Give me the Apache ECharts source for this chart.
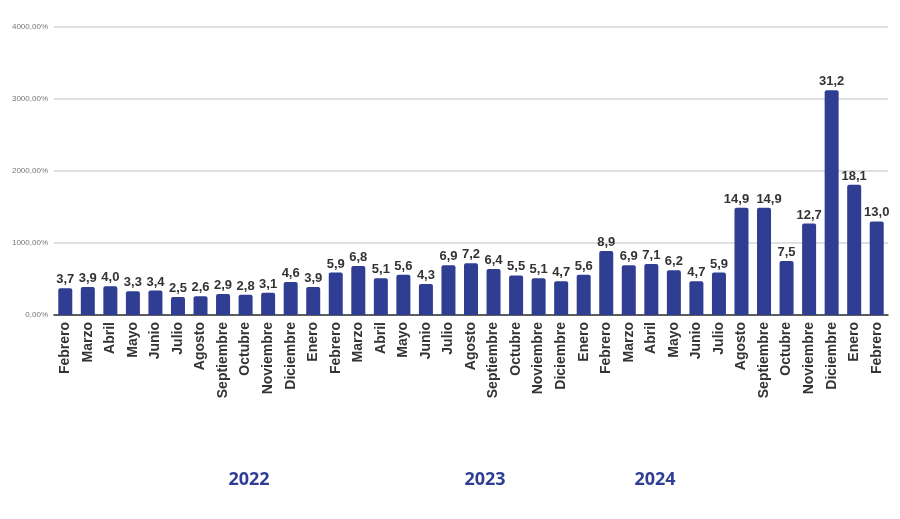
<!DOCTYPE html>
<html>
<head>
<meta charset="utf-8">
<script src="https://cdn.jsdelivr.net/npm/echarts@6/dist/echarts.min.js"></script>
<style>html,body{margin:0;padding:0;background:#fff;}#c{width:900px;height:519px;}</style>
</head>
<body>
<div id="c"></div>
<script>
const categories = ['Febrero','Marzo','Abril','Mayo','Junio','Julio','Agosto','Septiembre','Octubre','Noviembre','Diciembre',
  'Enero','Febrero','Marzo','Abril','Mayo','Junio','Julio','Agosto','Septiembre','Octubre','Noviembre','Diciembre',
  'Enero','Febrero','Marzo','Abril','Mayo','Junio','Julio','Agosto','Septiembre','Octubre','Noviembre','Diciembre',
  'Enero','Febrero'];
const labelValues = [3.7,3.9,4.0,3.3,3.4,2.5,2.6,2.9,2.8,3.1,4.6,
  3.9,5.9,6.8,5.1,5.6,4.3,6.9,7.2,6.4,5.5,5.1,4.7,
  5.6,8.9,6.9,7.1,6.2,4.7,5.9,14.9,14.9,7.5,12.7,31.2,
  18.1,13.0];
const barValues = labelValues.map(v => v * 100);
const yTicks = [0, 1000, 2000, 3000, 4000];
const yearLabels = ['2022', '2023', '2024'];
const yearX = [249, 485, 655];

// horizontal nudges for labels that would collide (style only)
const labelShift = { 30: -5, 31: 5 };

const chart = echarts.init(document.getElementById('c'));
chart.setOption({
  animation: false,
  grid: { left: 54, right: 12, top: 27, bottom: 204 },
  xAxis: {
    type: 'category',
    data: categories,
    axisLine: { lineStyle: { color: '#333', width: 1.5 } },
    axisTick: { show: false },
    axisLabel: {
      rotate: 90, interval: 0, margin: 7,
      fontFamily: 'Liberation Sans', fontWeight: 'bold', fontSize: 14, color: '#333'
    }
  },
  yAxis: {
    type: 'value', min: yTicks[0], max: yTicks[yTicks.length - 1], interval: 1000,
    axisLine: { show: false }, axisTick: { show: false },
    splitLine: { lineStyle: { color: '#d4d4d4', width: 1.5 } },
    axisLabel: {
      fontFamily: 'Liberation Sans', fontSize: 8, color: '#777', margin: 6,
      formatter: v => v + ',00%'
    }
  },
  series: [{
    type: 'bar',
    data: barValues.map((v, i) => labelShift[i] !== undefined
      ? { value: v, label: { offset: [labelShift[i], 0] } }
      : v),
    barWidth: 14,
    itemStyle: { color: '#2f3e92', borderRadius: [2, 2, 0, 0] },
    label: {
      show: true, position: 'top', distance: 2,
      fontFamily: 'Liberation Sans', fontWeight: 'bold', fontSize: 13, color: '#333',
      formatter: p => labelValues[p.dataIndex].toFixed(1).replace('.', ',')
    }
  }],
  graphic: yearLabels.map((t, i) => ({
    type: 'text', x: yearX[i], y: 480,
    style: {
      text: t, fill: '#2f3e94', font: 'bold 18px "Open Sans"',
      textAlign: 'center', textVerticalAlign: 'middle'
    }
  }))
});
</script>
</body>
</html>
